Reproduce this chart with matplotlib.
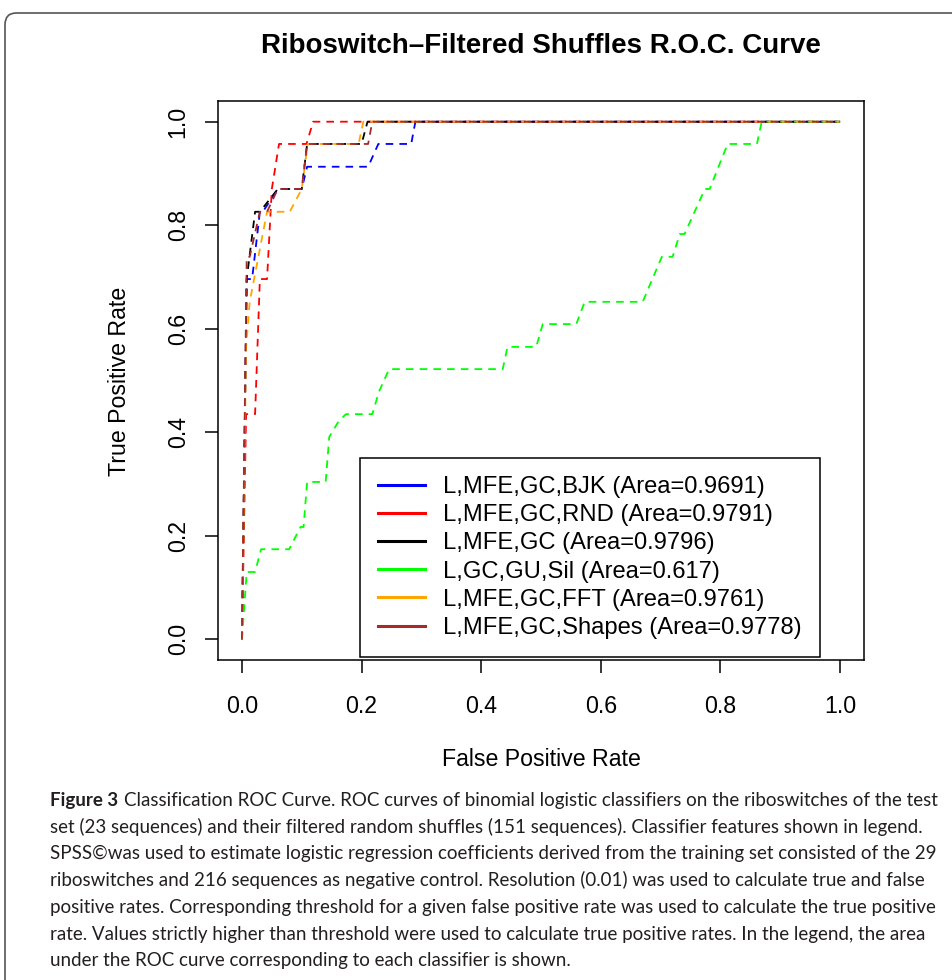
import matplotlib
matplotlib.use('Agg')
import matplotlib.pyplot as plt
from matplotlib.lines import Line2D
from matplotlib.patches import FancyBboxPatch

plt.rcParams['font.family'] = ['Liberation Sans', 'DejaVu Sans']

# ROC points (false positive rate, true positive rate)
bjk_fpr = [0, 0.008, 0.017, 0.030, 0.035, 0.060, 0.100, 0.109, 0.211, 0.228, 0.283, 0.290, 1.0]
bjk_tpr = [0, 0.696, 0.696, 0.826, 0.826, 0.870, 0.870, 0.913, 0.913, 0.957, 0.957, 1.0, 1.0]

rnd_fpr = [0, 0.007, 0.022, 0.030, 0.042, 0.050, 0.062, 0.108, 0.119, 1.0]
rnd_tpr = [0, 0.435, 0.435, 0.696, 0.696, 0.870, 0.957, 0.957, 1.0, 1.0]

base_fpr = [0, 0.008, 0.022, 0.030, 0.060, 0.100, 0.109, 0.200, 0.210, 1.0]
base_tpr = [0, 0.696, 0.826, 0.826, 0.870, 0.870, 0.957, 0.957, 1.0, 1.0]

sil_fpr = [0, 0.008, 0.022, 0.032, 0.079, 0.098, 0.103, 0.109, 0.140, 0.146, 0.162, 0.174,
           0.218, 0.229, 0.246, 0.436, 0.444, 0.492, 0.503, 0.559, 0.573, 0.670, 0.702,
           0.720, 0.732, 0.740, 0.774, 0.782, 0.812, 0.861, 0.869, 1.0]
sil_tpr = [0, 0.130, 0.130, 0.174, 0.174, 0.217, 0.217, 0.304, 0.304, 0.391, 0.422, 0.435,
           0.435, 0.478, 0.522, 0.522, 0.565, 0.565, 0.609, 0.609, 0.652, 0.652, 0.739,
           0.739, 0.783, 0.783, 0.870, 0.870, 0.957, 0.957, 1.0, 1.0]

fft_fpr = [0, 0.007, 0.013, 0.042, 0.080, 0.100, 0.110, 0.195, 0.203, 1.0]
fft_tpr = [0, 0.565, 0.652, 0.826, 0.826, 0.870, 0.957, 0.957, 1.0, 1.0]

shp_fpr = [0, 0.008, 0.013, 0.030, 0.042, 0.060, 0.100, 0.109, 0.211, 0.218, 1.0]
shp_tpr = [0, 0.739, 0.739, 0.826, 0.826, 0.870, 0.870, 0.957, 0.957, 1.0, 1.0]

labels = ['L,MFE,GC,BJK (Area=0.9691)',
          'L,MFE,GC,RND (Area=0.9791)',
          'L,MFE,GC (Area=0.9796)',
          'L,GC,GU,Sil (Area=0.617)',
          'L,MFE,GC,FFT (Area=0.9761)',
          'L,MFE,GC,Shapes (Area=0.9778)']
colors = ['#0000FF', '#FF0000', '#000000', '#00FF00', '#FFA500', '#A52A2A']
ticks = [0.0, 0.2, 0.4, 0.6, 0.8, 1.0]

curves = [(bjk_fpr, bjk_tpr), (rnd_fpr, rnd_tpr), (base_fpr, base_tpr),
          (sil_fpr, sil_tpr), (fft_fpr, fft_tpr), (shp_fpr, shp_tpr)]

W, H = 953, 980
fig = plt.figure(figsize=(W / 100, H / 100), dpi=100)
ax = fig.add_axes([218 / W, 1 - 660 / H, (864 - 218) / W, (660 - 101) / H])

for (x, y), c in zip(curves, colors):
    ax.plot(x, y, color=c, lw=1.3, linestyle=(0, (4.2, 3.4)))

ax.set_xlim(-0.04, 1.04)
ax.set_ylim(-0.04, 1.04)
ax.set_xticks(ticks)
ax.set_yticks(ticks)
ax.set_xticklabels(['%.1f' % t for t in ticks])
ax.set_yticklabels(['%.1f' % t for t in ticks], rotation=90, va='center')
ax.tick_params(direction='out', length=9.4, width=1.1, labelsize=16.7, colors='black')
ax.tick_params(axis='x', pad=15.8)
ax.tick_params(axis='y', pad=11)
for s in ax.spines.values():
    s.set_linewidth(1.1)

handles = [Line2D([0], [0], color=c, lw=2.2) for c in colors]
leg = ax.legend(handles, labels, loc='lower right', bbox_to_anchor=(820 / W, 1 - 657 / H),
                bbox_transform=fig.transFigure, borderaxespad=0, fontsize=17.1,
                handlelength=1.98, handletextpad=0.76, borderpad=0.76, labelspacing=0.26,
                fancybox=False, framealpha=1, edgecolor='black')
leg.get_frame().set_linewidth(1.1)

fig.text(541 / W, 1 - 46 / H, 'Riboswitch\u2013Filtered Shuffles R.O.C. Curve',
         ha='center', va='center', fontsize=20, fontweight='bold')
fig.text(541 / W, 1 - 760 / H, 'False Positive Rate', ha='center', va='center', fontsize=16.7)
fig.text(120 / W, 1 - 381 / H, 'True Positive Rate', ha='center', va='center',
         rotation=90, fontsize=16.7)

# page frame around figure + caption
frame = FancyBboxPatch((5 / W, -0.1), 1.2, 1 - 13 / H + 0.1,
                       boxstyle='round,pad=0,rounding_size=0.012',
                       transform=fig.transFigure, fill=False,
                       edgecolor='#555555', linewidth=1.2)
fig.add_artist(frame)

caption = ['Classification ROC Curve. ROC curves of binomial logistic classifiers on the riboswitches of the test',
           'set (23 sequences) and their filtered random shuffles (151 sequences). Classifier features shown in legend.',
           'SPSS\u00a9was used to estimate logistic regression coefficients derived from the training set consisted of the 29',
           'riboswitches and 216 sequences as negative control. Resolution (0.01) was used to calculate true and false',
           'positive rates. Corresponding threshold for a given false positive rate was used to calculate the true positive',
           'rate. Values strictly higher than threshold were used to calculate true positive rates. In the legend, the area',
           'under the ROC curve corresponding to each classifier is shown.']
cap_font = ['Lato', 'DejaVu Sans']
cap_size = 13.5
cap_col = '#231f20'
y0 = 806
head = fig.text(50 / W, 1 - y0 / H, 'Figure 3', fontweight='bold', family=cap_font,
                fontsize=cap_size, va='baseline', color=cap_col)
plt.annotate(caption[0], xy=(1, 1 - y0 / H), xycoords=(head, 'figure fraction'),
             xytext=(6, 0), textcoords='offset pixels', va='baseline',
             family=cap_font, fontsize=cap_size, color=cap_col)
for i, line in enumerate(caption[1:]):
    fig.text(50 / W, 1 - (y0 + 26.7 * (i + 1)) / H, line, family=cap_font,
             fontsize=cap_size, va='baseline', color=cap_col)

fig.savefig('out.png', dpi=100)
